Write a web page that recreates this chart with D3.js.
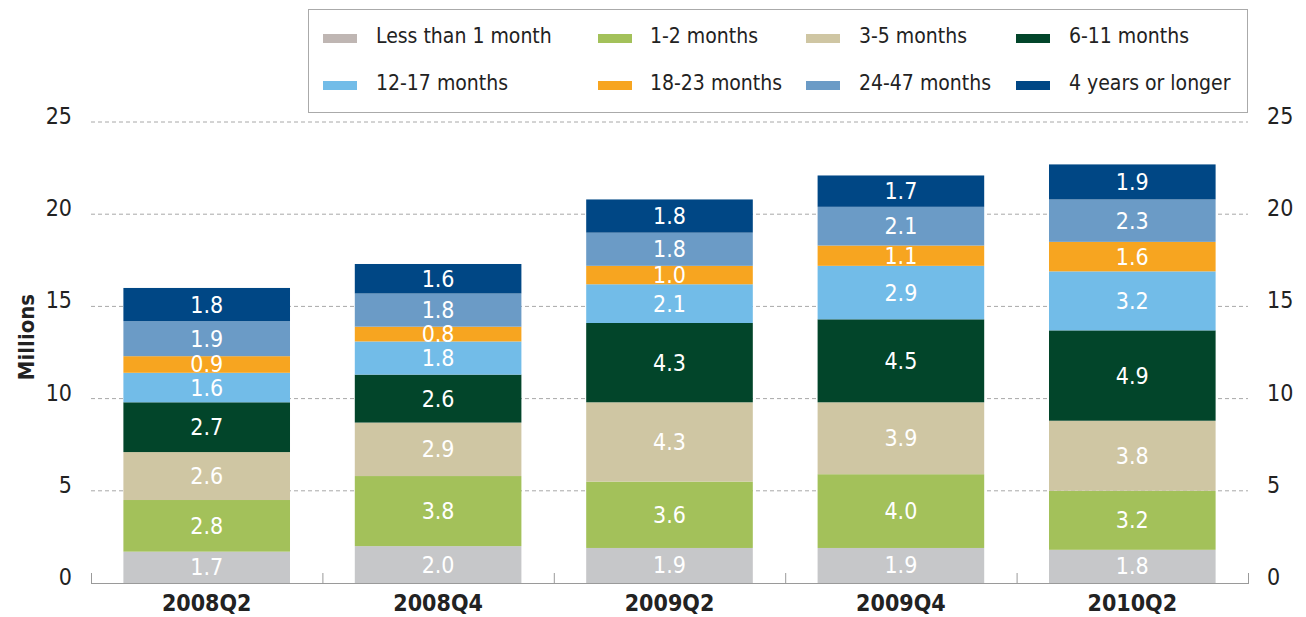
<!DOCTYPE html>
<html><head><meta charset="utf-8">
<script src="https://cdn.jsdelivr.net/npm/d3@7"></script>
<style>
body{margin:0;background:#fff;}
text{font-family:"Liberation Sans Narrow","DejaVu Sans Condensed","Roboto",sans-serif;}
</style></head>
<body><svg id="c" width="1306" height="617"></svg>
<script>
const categories = ["2008Q2","2008Q4","2009Q2","2009Q4","2010Q2"];
const seriesNames = ["Less than 1 month","1-2 months","3-5 months","6-11 months","12-17 months","18-23 months","24-47 months","4 years or longer"];
const seriesColors = ["#c6c7c9","#a3c15a","#cfc6a3","#02452a","#72bce8","#f7a520","#6b9bc6","#004785"];
const legendColors = ["#bfb6b3","#a3c15a","#cfc6a3","#02452a","#72bce8","#f7a520","#6b9bc6","#004785"];
const lessThan1 = [1.7,2.0,1.9,1.9,1.8];
const m1to2 = [2.8,3.8,3.6,4.0,3.2];
const m3to5 = [2.6,2.9,4.3,3.9,3.8];
const m6to11 = [2.7,2.6,4.3,4.5,4.9];
const m12to17 = [1.6,1.8,2.1,2.9,3.2];
const m18to23 = [0.9,0.8,1.0,1.1,1.6];
const m24to47 = [1.9,1.8,1.8,2.1,2.3];
const y4plus = [1.8,1.6,1.8,1.7,1.9];
const yTicks = [0,5,10,15,20,25];

const seriesValues = [lessThan1,m1to2,m3to5,m6to11,m12to17,m18to23,m24to47,y4plus];
const rows = categories.map((c,i)=>{const r={cat:c}; seriesNames.forEach((s,j)=>r[s]=seriesValues[j][i]); return r;});
const stacked = d3.stack().keys(seriesNames)(rows);

const svg = d3.select("#c");
const L=91, R=1248, T=122, B=583;
const x = d3.scaleBand().domain(categories).range([L,R]).paddingInner(0.28).paddingOuter(0.14);
const y = d3.scaleLinear().domain([0,25]).range([B,T]);

// gridlines
svg.append("g").selectAll("line").data(yTicks.filter(t=>t>0)).join("line")
  .attr("x1",L).attr("x2",R).attr("y1",d=>y(d)).attr("y2",d=>y(d))
  .attr("stroke","#a8a8a8").attr("stroke-width",1).attr("stroke-dasharray","4,3");

// y tick labels
const yl = svg.append("g");
yl.selectAll("text.l").data(yTicks).join("text").attr("class","l")
  .attr("x",72).attr("y",d=>y(d)+2).attr("text-anchor","end")
  .attr("font-size",23).attr("fill","#222").text(d=>d);
yl.selectAll("text.r").data(yTicks).join("text").attr("class","r")
  .attr("x",1267).attr("y",d=>y(d)+2).attr("text-anchor","start")
  .attr("font-size",23).attr("fill","#222").text(d=>d);

svg.append("text").attr("transform","translate(34,337) rotate(-90)")
  .attr("text-anchor","middle").attr("font-size",22).attr("font-weight","bold").attr("fill","#222").text("Millions");

// bars
const g = svg.append("g");
stacked.forEach((layer,j)=>{
  g.append("g").selectAll("rect").data(layer).join("rect")
    .attr("x",d=>x(d.data.cat)).attr("width",x.bandwidth())
    .attr("y",d=>y(d[1])).attr("height",d=>y(d[0])-y(d[1]))
    .attr("fill",seriesColors[j]);
});
stacked.forEach((layer,j)=>{
  g.append("g").selectAll("text").data(layer).join("text")
    .attr("x",d=>x(d.data.cat)+x.bandwidth()/2)
    .attr("y",d=>(y(d[0])+y(d[1]))/2+8)
    .attr("text-anchor","middle").attr("font-size",23).attr("fill","#fff")
    .text(d=>(d[1]-d[0]).toFixed(1));
});

// x axis
const ax = svg.append("g");
ax.append("line").attr("x1",L).attr("x2",R).attr("y1",B+0.5).attr("y2",B+0.5).attr("stroke","#9a9a9a");
const bounds = d3.range(categories.length+1).map(i=>L+i*(R-L)/categories.length);
ax.selectAll("line.t").data(bounds).join("line").attr("class","t")
  .attr("x1",d=>d+0.5).attr("x2",d=>d+0.5).attr("y1",B-10).attr("y2",B+1).attr("stroke","#9a9a9a");
ax.selectAll("text").data(categories).join("text")
  .attr("x",d=>x(d)+x.bandwidth()/2).attr("y",611).attr("text-anchor","middle")
  .attr("font-size",23).attr("font-weight","bold").attr("fill","#222").text(d=>d);

// legend
const lg = svg.append("g");
lg.append("rect").attr("x",308.5).attr("y",9.5).attr("width",939).attr("height",103)
  .attr("fill","#fff").attr("stroke","#aaa");
const colX = [323,598,806,1016];
const txX = [376,650,859,1069];
const rowY = [36,83];
seriesNames.forEach((s,i)=>{
  const c=i%4, r=Math.floor(i/4);
  lg.append("rect").attr("x",colX[c]).attr("y",rowY[r]-2).attr("width",34).attr("height",9).attr("fill",legendColors[i]);
  lg.append("text").attr("x",txX[c]).attr("y",rowY[r]+7).attr("font-size",21).attr("fill","#222").text(s);
});
</script></body></html>
